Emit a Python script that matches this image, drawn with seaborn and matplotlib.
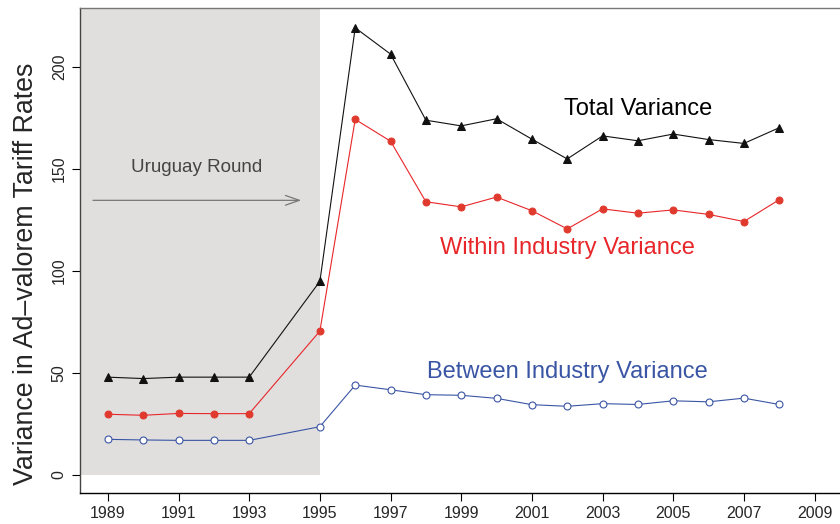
import seaborn as sns
import pandas as pd
import matplotlib.pyplot as plt

years = [1989, 1990, 1991, 1992, 1993, 1995, 1996, 1997, 1998, 1999,
         2000, 2001, 2002, 2003, 2004, 2005, 2006, 2007, 2008]
total_var = [48.0, 47.3, 48.0, 48.0, 48.0, 95.0, 219.3, 206.4, 174.0, 171.2,
             174.7, 164.7, 155.0, 166.3, 163.9, 167.2, 164.5, 162.6, 170.3]
within_var = [29.8, 29.3, 30.2, 30.1, 30.1, 70.6, 174.4, 163.7, 134.0, 131.5,
              136.3, 129.6, 120.7, 130.5, 128.4, 130.0, 127.8, 124.3, 135.0]
between_var = [17.5, 17.2, 17.0, 17.0, 17.0, 23.7, 44.1, 41.8, 39.4, 39.1,
               37.6, 34.5, 33.7, 35.0, 34.6, 36.4, 35.9, 37.7, 34.6]
xticks = list(range(1989, 2010, 2))
yticks = [0, 50, 100, 150, 200]

df = pd.DataFrame({"year": years, "total": total_var,
                   "within": within_var, "between": between_var})

sns.set_style("ticks")
plt.rcParams['font.family'] = ['Liberation Sans', 'DejaVu Sans']

fig = plt.figure(figsize=(8.4, 5.24), dpi=100)
ax = fig.add_axes([0.0952, 0.0592, 0.9048, 0.9255])

black = "#111111"
red = "#e8262a"
blue = "#3a55a4"

# shaded Uruguay Round period (from 0 up)
ax.fill_between([1987.0, 1995.0], 0, 300, color="#e0dfde", lw=0, zorder=0)

sns.lineplot(data=df, x="year", y="total", ax=ax, color=black, lw=0.8,
             marker="^", markersize=5.5, markeredgecolor=black, markerfacecolor=black)
sns.lineplot(data=df, x="year", y="within", ax=ax, color=red, lw=0.8,
             marker="o", markersize=5, markeredgecolor="#e03a2f", markerfacecolor="#e03a2f")
sns.lineplot(data=df, x="year", y="between", ax=ax, color=blue, lw=0.8,
             marker="o", markersize=5, markeredgecolor=blue, markerfacecolor="white",
             markeredgewidth=0.8)

ax.annotate("", xy=(1994.55, 134.7), xytext=(1988.5, 134.7),
            arrowprops=dict(arrowstyle="->,head_length=1.0,head_width=0.35",
                            color="#777777", lw=0.9))
ax.text(1991.5, 150.6, "Uruguay Round", ha="center", va="center",
        fontsize=13.5, color="#444444")
ax.text(2004.0, 179.7, "Total Variance", ha="center", va="center",
        fontsize=17, color="black")
ax.text(2002.0, 111.3, "Within Industry Variance", ha="center", va="center",
        fontsize=17, color=red)
ax.text(2002.0, 50.6, "Between Industry Variance", ha="center", va="center",
        fontsize=17, color=blue)

ax.set_xlim(1988.21, 2009.72)
ax.set_ylim(-8.8, 229)
ax.set_xticks(xticks)
ax.set_yticks(yticks)
ax.set_yticklabels([str(v) for v in yticks], rotation=90, va="center")
ax.tick_params(axis="both", labelsize=11.5, length=6, width=0.8, color="black",
               direction="out")
ax.set_xlabel("")
ax.set_ylabel("Variance in Ad\u2013valorem Tariff Rates", fontsize=19.3)
ax.yaxis.set_label_coords(-0.054, 0.4515)

ax.spines["right"].set_visible(False)
ax.spines["top"].set_color("#777777")
ax.spines["left"].set_color("#444444")
ax.spines["bottom"].set_color("black")
for s in ax.spines.values():
    s.set_linewidth(1.0)

fig.savefig("out.png", dpi=100)
